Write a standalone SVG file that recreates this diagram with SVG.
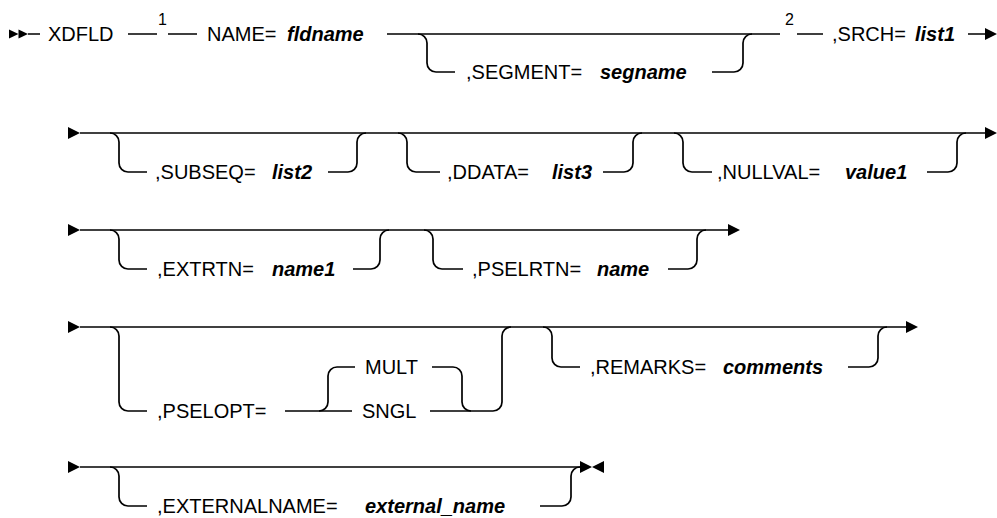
<svg xmlns="http://www.w3.org/2000/svg" width="997" height="518" viewBox="0 0 997 518">
<style>
.ln{fill:none;stroke:#000;stroke-width:1.7}
.hd{fill:#000}
text{font-family:"Liberation Sans",Arial,sans-serif;font-size:20px;fill:#000}
.v{font-style:italic;font-weight:bold}
.sup{font-size:16px}
</style>
<rect width="997" height="518" fill="#fff"/>
<g id="connectors">
<!-- row 1 -->
<polygon class="hd" points="9,29.5 18.5,34 9,38.5"/>
<polygon class="hd" points="18.5,29.5 28,34 18.5,38.5"/>
<path class="ln" d="M28 34H40M128 34H157M168 34H197M387 34H780M797 34H823M968 34H987"/>
<polygon class="hd" points="985,28 997,34 985,40"/>
<path class="ln" d="M418 34A9 9 0 0 1 427 43V63A9 9 0 0 0 436 72H455M712 72H734A9 9 0 0 0 743 63V43A9 9 0 0 1 752 34"/>
<!-- row 2 -->
<polygon class="hd" points="68,127 80,133 68,139"/>
<path class="ln" d="M80 133H987"/>
<polygon class="hd" points="985,127 997,133 985,139"/>
<path class="ln" d="M110 133A9 9 0 0 1 119 142V163A9 9 0 0 0 128 172H147M328 172H348A9 9 0 0 0 357 163V142A9 9 0 0 1 366 133"/>
<path class="ln" d="M398 133A9 9 0 0 1 407 142V163A9 9 0 0 0 416 172H440M603 172H624A9 9 0 0 0 633 163V142A9 9 0 0 1 642 133"/>
<path class="ln" d="M674 133A9 9 0 0 1 683 142V163A9 9 0 0 0 692 172H712M927 172H948A9 9 0 0 0 957 163V142A9 9 0 0 1 966 133"/>
<!-- row 3 -->
<polygon class="hd" points="68,224 80,230 68,236"/>
<path class="ln" d="M80 230H730"/>
<polygon class="hd" points="728,224 740,230 728,236"/>
<path class="ln" d="M110 230A9 9 0 0 1 119 239V260A9 9 0 0 0 128 269H147M353 269H371A9 9 0 0 0 380 260V239A9 9 0 0 1 389 230"/>
<path class="ln" d="M424 230A9 9 0 0 1 433 239V260A9 9 0 0 0 442 269H463M668 269H688A9 9 0 0 0 697 260V239A9 9 0 0 1 706 230"/>
<!-- row 4 -->
<polygon class="hd" points="68,321 80,327 68,333"/>
<path class="ln" d="M80 327H908"/>
<polygon class="hd" points="906,321 918,327 906,333"/>
<path class="ln" d="M110 327A9 9 0 0 1 119 336V402A9 9 0 0 0 128 411H147M285 411H352M430 411H493A9 9 0 0 0 502 402V336A9 9 0 0 1 511 327"/>
<path class="ln" d="M319 411A9 9 0 0 0 328 402V376A9 9 0 0 1 337 367H355M432 367H453A9 9 0 0 1 462 376V402A9 9 0 0 0 471 411"/>
<path class="ln" d="M543 327A9 9 0 0 1 552 336V358A9 9 0 0 0 561 367H580M848 367H869A9 9 0 0 0 878 358V336A9 9 0 0 1 887 327"/>
<!-- row 5 -->
<polygon class="hd" points="68,461 80,467 68,473"/>
<path class="ln" d="M80 467H580"/>
<path class="ln" d="M110 467A9 9 0 0 1 119 476V497A9 9 0 0 0 128 506H147M540 506H562A9 9 0 0 0 571 497V476A9 9 0 0 1 580 467"/>
<polygon class="hd" points="580,461 592,467 580,473"/>
<polygon class="hd" points="604,461 592,467 604,473"/>
</g>
<g id="n-xdfld"><text x="48" y="41">XDFLD</text></g>
<g id="n-note1"><text class="sup" x="158" y="25">1</text></g>
<g id="n-name"><text x="207" y="41">NAME=</text><text class="v" x="287" y="41">fldname</text></g>
<g id="n-segment"><text x="466" y="79">,SEGMENT=</text><text class="v" x="600" y="79">segname</text></g>
<g id="n-note2"><text class="sup" x="785" y="25">2</text></g>
<g id="n-srch"><text x="832" y="41">,SRCH=</text><text class="v" x="915" y="41">list1</text></g>
<g id="n-subseq"><text x="155" y="179">,SUBSEQ=</text><text class="v" x="272" y="179">list2</text></g>
<g id="n-ddata"><text x="447" y="179">,DDATA=</text><text class="v" x="552" y="179">list3</text></g>
<g id="n-nullval"><text x="717" y="179">,NULLVAL=</text><text class="v" x="845" y="179">value1</text></g>
<g id="n-extrtn"><text x="157" y="276">,EXTRTN=</text><text class="v" x="272" y="276">name1</text></g>
<g id="n-pselrtn"><text x="472" y="276">,PSELRTN=</text><text class="v" x="597" y="276">name</text></g>
<g id="n-pselopt"><text x="157" y="418">,PSELOPT=</text></g>
<g id="n-mult"><text x="365" y="374">MULT</text></g>
<g id="n-sngl"><text x="362" y="418">SNGL</text></g>
<g id="n-remarks"><text x="590" y="374">,REMARKS=</text><text class="v" x="723" y="374">comments</text></g>
<g id="n-externalname"><text x="157" y="513">,EXTERNALNAME=</text><text class="v" x="365" y="513">external_name</text></g>
</svg>
